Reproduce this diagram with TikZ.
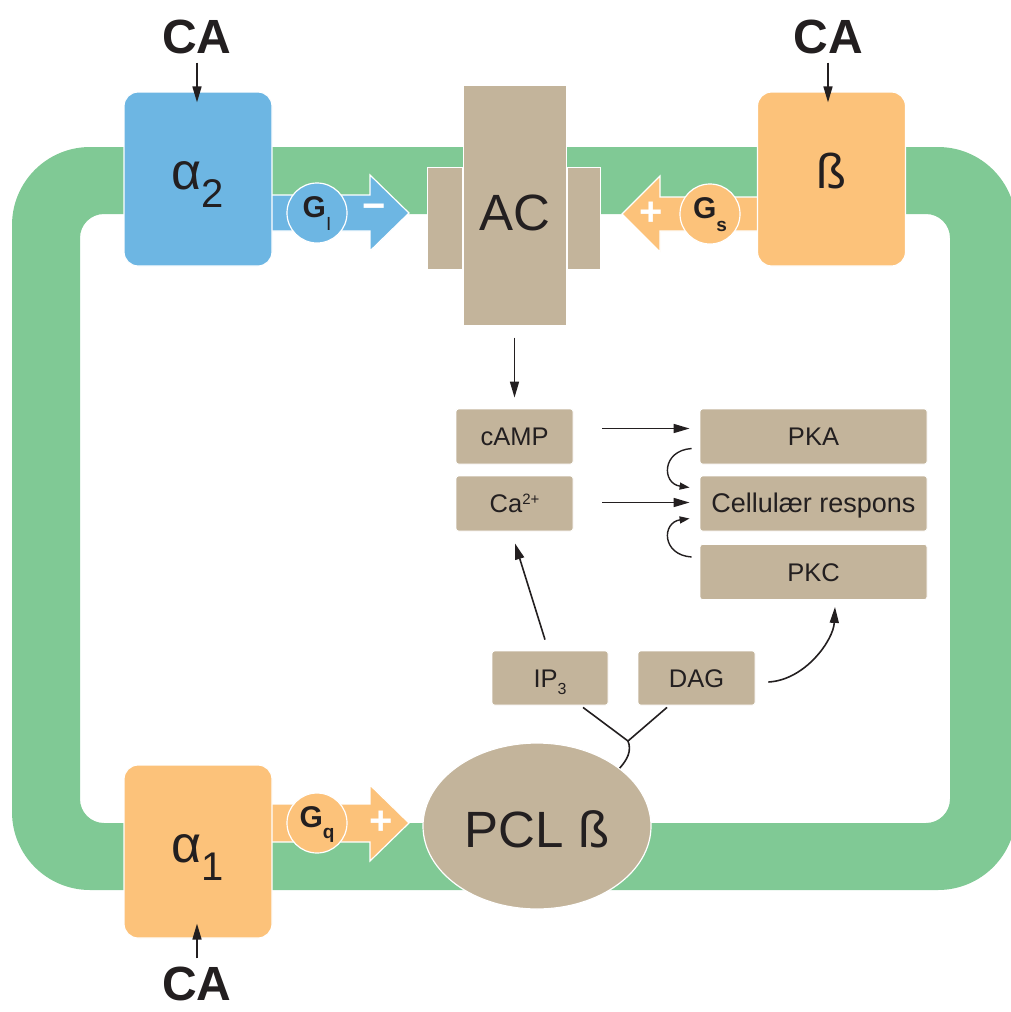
\documentclass[tikz,border=0pt]{standalone}
\usepackage{fontspec}
\setmainfont{Liberation Sans}
\usetikzlibrary{arrows.meta,calc,shapes.geometric}
\definecolor{ringgreen}{RGB}{128,201,149}
\definecolor{rblue}{RGB}{109,182,227}
\definecolor{rorange}{RGB}{252,194,122}
\definecolor{rtan}{RGB}{195,180,155}
\definecolor{ink}{RGB}{35,31,32}
\begin{document}
\begin{tikzpicture}[x=1pt,y=-1pt,
  recbox/.style={draw=white, line width=1.2pt, rounded corners=14pt, minimum width=148pt, minimum height=174pt, inner sep=0pt, text=ink},
  acpart/.style={fill=rtan, draw=white, line width=1pt, inner sep=0pt},
  smallbox/.style={fill=rtan, draw=white, line width=0.8pt, rounded corners=2.5pt, inner sep=0pt, minimum height=55pt, text=ink, text height=18.5pt, text depth=0pt, font=\fontsize{25.5}{26}\selectfont},
  gcircle/.style={circle, draw=white, line width=1.2pt, minimum size=60pt, inner sep=0pt, text=ink, text height=9pt, text depth=0pt, font=\fontsize{30}{30}\selectfont\bfseries},
  sign/.style={text=white, inner sep=0pt, font=\fontsize{40}{40}\selectfont\bfseries},
  calabel/.style={text=ink, inner sep=0pt, anchor=base, font=\fontsize{48}{48}\selectfont\bfseries},
  bigarrow/.style={draw=white, line width=1.2pt},
  arr/.style={draw=ink, line width=1.6pt, -{Triangle[length=16pt,width=9pt]}},
  smallarr/.style={draw=ink, line width=1.4pt, -{Triangle[length=10pt,width=7pt]}},
  plain/.style={draw=ink, line width=1.6pt}
]
\useasboundingbox (0,0) rectangle (1010,1012);
% green ring
\fill[ringgreen, even odd rule] [rounded corners=78pt] (12,147) rectangle (1016,890) [rounded corners=24pt] (80,214) rectangle (950,823);

% G-protein arrows
\filldraw[fill=rblue, bigarrow] (250,195) -- (370,195) -- (370,175) -- (409,213) -- (370,251) -- (370,231) -- (250,231) -- cycle;
\filldraw[fill=rorange, bigarrow] (780,197) -- (660,197) -- (660,176) -- (622,214) -- (660,252) -- (660,231) -- (780,231) -- cycle;
\filldraw[fill=rorange, bigarrow] (250,804) -- (370,804) -- (370,785) -- (409,823) -- (370,861) -- (370,842) -- (250,842) -- cycle;

% receptors
\node[recbox, fill=rblue, text height=21pt, text depth=0pt, font=\fontsize{52}{52}\selectfont] (a2) at (198,179) {α\raisebox{-18pt}{\fontsize{40}{40}\selectfont 2}};
\node[recbox, fill=rorange, text height=18pt, text depth=0pt, font=\fontsize{49}{49}\selectfont] (beta) at (831.5,179) {ß};
\node[recbox, fill=rorange, minimum height=173pt, text height=21pt, text depth=0pt, font=\fontsize{52}{52}\selectfont] (a1) at (198,851.5) {α\raisebox{-18pt}{\fontsize{40}{40}\selectfont 1}};

% G circles and signs
\node[gcircle, fill=rblue] (gi) at (317,213) {G\raisebox{-13pt}{\fontsize{19}{19}\selectfont\mdseries I}};
\node[gcircle, fill=rorange] (gs) at (710,214) {G\raisebox{-13pt}{\fontsize{19}{19}\selectfont s}};
\node[gcircle, fill=rorange] (gq) at (317,823) {G\raisebox{-11pt}{\fontsize{19}{19}\selectfont q}};
\node[sign] (minus) at (374.5,212) {−};
\node[sign] (plus1) at (651.5,214) {+};
\node[sign] (plus2) at (381,823) {+};

% AC
\node[acpart, minimum width=35pt, minimum height=102pt] (acl) at (444.5,218) {};
\node[acpart, minimum width=33pt, minimum height=102pt] (acr) at (583.5,218) {};
\node[acpart, minimum width=103pt, minimum height=240pt, text=ink, text height=50pt, text depth=0pt, font=\fontsize{51}{51}\selectfont] (ac) at (514.5,205) {AC};

% PCL
\node[ellipse, fill=rtan, draw=white, line width=1.2pt, minimum width=228pt, minimum height=166pt, inner sep=0pt, text=ink, text height=42pt, text depth=0pt, font=\fontsize{51}{51}\selectfont] (pcl) at (537,826) {PCL ß};

% small boxes
\node[smallbox, minimum width=117pt] (camp) at (514.5,436.5) {cAMP};
\node[smallbox, minimum width=117pt] (ca) at (514.5,503.5) {Ca\raisebox{8pt}{\fontsize{15}{15}\selectfont 2+}};
\node[smallbox, minimum width=227pt] (pka) at (813.5,436.5) {PKA};
\node[smallbox, minimum width=227pt, font=\fontsize{27}{27}\selectfont] (cr) at (813.5,503.5) {Cellulær respons};
\node[smallbox, minimum width=227pt] (pkc) at (813.5,572) {PKC};
\node[smallbox, minimum width=116pt, minimum height=54pt] (ip3) at (550,678) {IP\raisebox{-7pt}{\fontsize{16}{16}\selectfont 3}};
\node[smallbox, minimum width=117pt, minimum height=54pt] (dag) at (696.5,678) {DAG};

% CA labels
\node[calabel] (ca1) at (197,53) {CA};
\node[calabel] (ca2) at (828,53) {CA};
\node[calabel] (ca3) at (197,1000) {CA};
\draw[arr] ($(ca1.south)+(0,9)$) -- ($(a2.north)+(-1,11)$);
\draw[arr] ($(ca2.south)+(0,9)$) -- ($(beta.north)+(-3.5,11)$);
\draw[arr] ($(ca3.north)+(0,-8)$) -- ($(a1.south)+(-1,-15)$);

% signalling connectors
\draw[arr] ($(ac.south)+(0,12)$) -- ($(camp.north)+(0,-11)$);
\draw[arr] ($(camp.east)+(29,-8)$) -- ($(pka.west)+(-10,-8)$);
\draw[arr] ($(ca.east)+(29,-1)$) -- ($(cr.west)+(-10,-1)$);
\draw[smallarr] ($(pka.west)+(-8,12)$) .. controls ($(pka.west)+(-38,14)$) and ($(cr.west)+(-38,-20)$) .. ($(cr.west)+(-10,-16)$);
\draw[smallarr] ($(pkc.west)+(-8,-15)$) .. controls ($(pkc.west)+(-38,-17)$) and ($(cr.west)+(-38,19)$) .. ($(cr.west)+(-10,15)$);
\draw[arr] ($(ip3.north)+(-5,-11)$) -- ($(ca.south)+(0.5,12)$);
\draw[arr] ($(dag.east)+(13,4)$) .. controls ($(dag.east)+(50,2)$) and ($(pkc.south)+(20,40)$) .. ($(pkc.south)+(21.5,7)$);
\coordinate (fork) at (628,741);
\draw[plain] ($(ip3.south)+(33,2)$) -- (fork) -- ($(dag.south)+(-29.5,2)$);
\draw[plain] (fork) .. controls (632,751) and (627,760) .. (pcl.35);
\end{tikzpicture}
\end{document}
